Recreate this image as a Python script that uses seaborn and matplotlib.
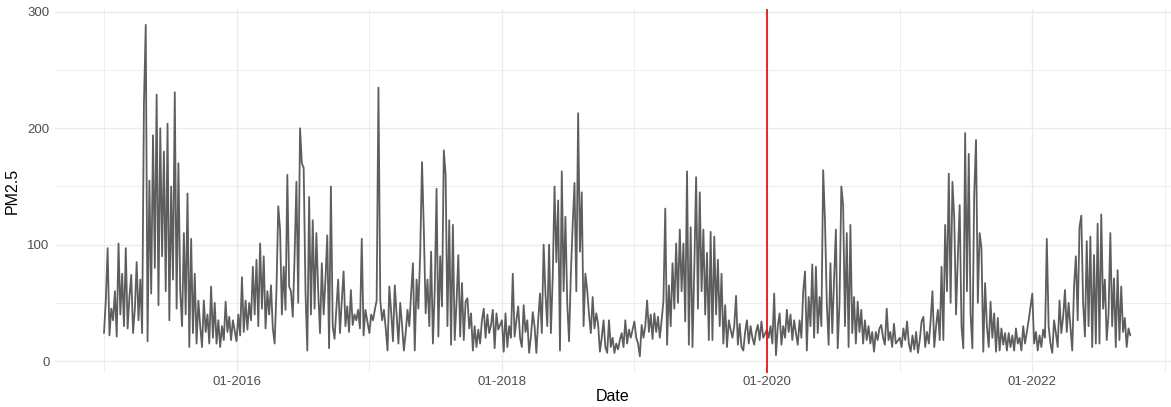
import numpy as np
import pandas as pd
import matplotlib
matplotlib.use("Agg")
import matplotlib.pyplot as plt
import matplotlib.dates as mdates
import seaborn as sns

# PM2.5 readings, one value every 5 days starting 1 January of each year
pm_2015 = [24, 52, 97, 22, 45, 35,  60, 21, 101, 40, 75, 30,  97, 28, 55, 74, 24, 45,
           85, 35, 70, 24, 221, 289,  17, 155, 58, 194, 80, 229,  48, 200, 90, 180, 60, 204,
           35, 150, 70, 231, 45, 170,  60, 30, 110, 40, 144, 12,  105, 24, 75, 15, 52, 30,
           12, 52, 25, 40, 15, 64,  20, 50, 15, 35, 12, 30,  18, 51, 25, 38, 18, 35]
pm_2016 = [17, 40, 22, 72, 25, 52,  27, 50, 35, 81, 40, 87,  30, 101, 45, 90, 28, 60,
           40, 65, 28, 15, 60, 133,  113, 40, 81, 44, 160, 64,  60, 38, 90, 154, 50, 200,
           170, 166, 60, 9, 141, 40,  121, 45, 110, 60, 24, 84,  40, 70, 108, 11, 150, 30,
           19, 45, 70, 24, 52, 77,  30, 47, 25, 61, 31, 40,  35, 44, 28, 105, 22, 44]
pm_2017 = [24, 40, 35, 44, 52, 235,  52, 35, 44, 28, 9, 64,  42, 17, 65, 40, 15, 50,
           31, 9, 24, 44, 30, 58,  84, 9, 70, 45, 93, 171,  113, 41, 70, 30, 94, 15,
           60, 148, 21, 90, 47, 181,  160, 30, 121, 14, 117, 18,  50, 91, 21, 67, 18, 51,
           54, 28, 41, 9, 30, 12,  27, 15, 35, 45, 20, 40,  24, 31, 44, 11, 41, 27]
pm_2018 = [35, 8, 41, 12, 30, 20,  75, 21, 35, 47, 20, 12,  48, 25, 35, 7, 21, 42,
           30, 7, 35, 58, 24, 100,  58, 30, 100, 24, 72, 150,  85, 138, 9, 163, 60, 124,
           50, 17, 75, 117, 153, 60,  213, 94, 145, 30, 75, 61,  40, 24, 55, 28, 41, 32,
           8, 20, 35, 12, 7, 35,  12, 20, 7, 15, 10, 18,  24, 12, 35, 15, 27, 20]
pm_2019 = [34, 20, 15, 4, 31, 20,  30, 52, 25, 40, 19, 41,  25, 38, 20, 35, 52, 131,
           14, 65, 30, 84, 45, 101,  50, 113, 60, 101, 34, 163,  14, 115, 12, 80, 158, 45,
           145, 60, 113, 40, 93, 18,  111, 18, 107, 40, 87, 30,  75, 15, 48, 12, 35, 27,
           20, 30, 56, 14, 32, 12,  9, 25, 35, 15, 30, 20,  14, 25, 31, 18, 34, 20]
pm_2020 = [27, 20, 30, 15, 58, 5,  30, 41, 14, 30, 20, 44,  25, 40, 18, 35, 24, 14,
           35, 20, 60, 77, 9, 55,  30, 83, 20, 81, 24, 55,  30, 164, 120, 50, 14, 84,
           24, 70, 113, 11, 50, 150,  134, 30, 110, 12, 117, 24,  55, 15, 51, 25, 44, 15,
           35, 18, 30, 15, 25, 8,  25, 18, 28, 31, 20, 14,  45, 18, 25, 12, 32, 15]
pm_2021 = [20, 12, 28, 18, 34, 15,  8, 22, 10, 25, 7, 18,  34, 38, 12, 25, 15, 35,
           60, 12, 30, 44, 18, 81,  18, 117, 60, 161, 50, 154,  123, 40, 90, 134, 30, 11,
           196, 60, 178, 40, 11, 143,  190, 50, 110, 97, 8, 67,  30, 12, 51, 20, 41, 8,
           37, 9, 28, 14, 24, 9,  24, 12, 22, 9, 28, 15,  20, 9, 30, 15, 25, 35]
pm_2022 = [58, 15, 25, 9, 22, 12,  27, 20, 105, 30, 15, 7,  35, 24, 12, 52, 24, 38,
           61, 25, 50, 30, 9, 64,  90, 35, 115, 125, 50, 21,  103, 30, 107, 12, 91, 15,
           118, 15, 126, 45, 70, 18,  40, 110, 30, 71, 12, 78,  18, 64, 25, 37, 12, 28,
           22]

years = [2015, 2016, 2017, 2018, 2019, 2020, 2021, 2022]
series = [pm_2015, pm_2016, pm_2017, pm_2018, pm_2019, pm_2020, pm_2021, pm_2022]

frames = []
for yr, vals in zip(years, series):
    d = pd.date_range(f"{yr}-01-01", periods=len(vals), freq="5D")
    frames.append(pd.DataFrame({"Date": d, "PM2.5": vals}))
df = pd.concat(frames, ignore_index=True)

cutoff = pd.Timestamp("2020-01-01")
major_ticks = pd.to_datetime(["2016-01-01", "2018-01-01", "2020-01-01", "2022-01-01"])
minor_ticks = pd.to_datetime(["2015-01-01", "2017-01-01", "2019-01-01", "2021-01-01", "2023-01-01"])
tick_labels = ["01-2016", "01-2018", "01-2020", "01-2022"]

sns.set_theme(style="white")
plt.rcParams['font.family'] = ['Liberation Sans', 'DejaVu Sans']

W, H = 1171, 407
fig = plt.figure(figsize=(W / 100, H / 100), dpi=100)
left_px, right_px, top_px, bottom_px = 55, 1171, 9.3, 373
ax = fig.add_axes([left_px / W, 1 - bottom_px / H, (right_px - left_px) / W, (bottom_px - top_px) / H])

sns.lineplot(data=df, x="Date", y="PM2.5", ax=ax, color="#5e5e5e", linewidth=1.3, estimator=None)
ax.axvline(cutoff, color="#e8141c", linewidth=1.3)

# x-scale: 2015-01-01 at px 104, 132.6 px per year
px_per_day = 132.6 / 365.25
x0 = pd.Timestamp("2015-01-01")
xmin = x0 - pd.Timedelta(days=(104 - left_px) / px_per_day)
xmax = x0 + pd.Timedelta(days=(right_px - 104) / px_per_day)
ax.set_xlim(xmin, xmax)
ax.set_ylim(-10.3, 302.3)

ax.set_xticks(major_ticks)
ax.set_xticklabels(tick_labels)
ax.set_xticks(minor_ticks, minor=True)
ax.set_yticks([0, 100, 200, 300])
ax.set_yticks([50, 150, 250], minor=True)

ax.grid(which="major", color="#ebebeb", linewidth=1.0)
ax.grid(which="minor", color="#ebebeb", linewidth=0.6)
ax.set_axisbelow(True)
for s in ax.spines.values():
    s.set_visible(False)
ax.tick_params(which="both", length=0, labelsize=9.5, colors="#4d4d4d", pad=4)
ax.tick_params(axis="x", pad=2)
ax.set_xlabel("Date", fontsize=11.5, color="black", labelpad=1)
ax.set_ylabel("PM2.5", fontsize=11.5, color="black", labelpad=5)

fig.savefig("out.png", dpi=100)
